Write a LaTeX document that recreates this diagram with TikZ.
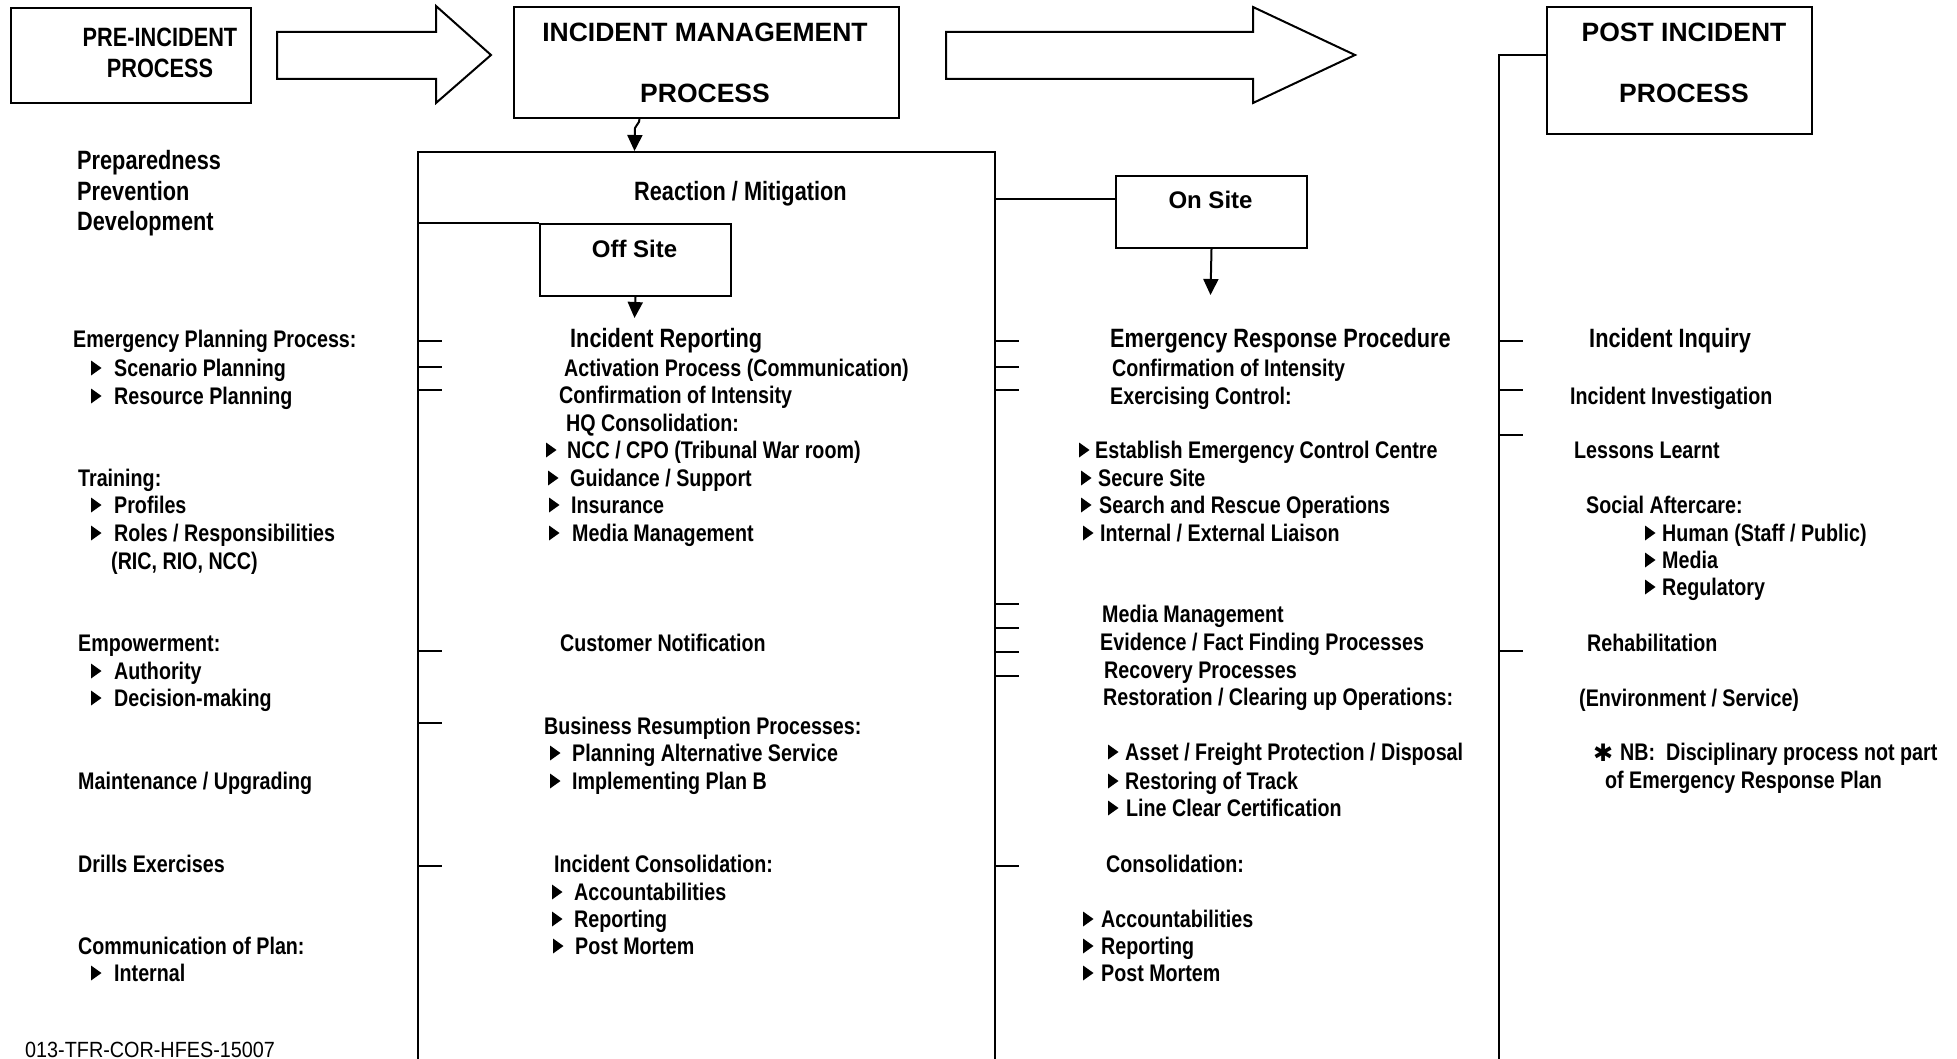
\documentclass[tikz,border=0pt]{standalone}
\usepackage{fontspec}
\setmainfont{Liberation Sans}
\newfontfamily\narrowfam[FakeStretch=0.82]{Liberation Sans}
\newfontfamily\footfam[FakeStretch=0.9]{Liberation Sans}
\newfontfamily\symfam{DejaVu Sans}
\usetikzlibrary{arrows.meta}
\tikzset{
  ln/.style={line width=2pt},
  box/.style={draw, line width=2pt, inner sep=0pt, anchor=north west},
  arr/.style={ln, -{Triangle[width=15pt,length=16pt]}},
  txt/.style={anchor=base west, inner sep=0pt, yshift=-8pt, font=\narrowfam\bfseries\fontsize{24}{28}\selectfont},
  hd/.style={anchor=base west, inner sep=0pt, yshift=-9pt, font=\narrowfam\bfseries\fontsize{26.5}{30}\selectfont},
  ttl/.style={anchor=base, inner sep=0pt, font=\bfseries\fontsize{26.5}{30}\selectfont},
  nttl/.style={anchor=base, inner sep=0pt, font=\narrowfam\bfseries\fontsize{26.5}{30}\selectfont},
  site/.style={anchor=base, inner sep=0pt, font=\bfseries\fontsize{24}{28}\selectfont},
  tick/.style={line width=1.6pt}
}
\newcommand\bul[2]{\fill (#1,#2-7.5) -- (#1+10.5,#2) -- (#1,#2+7.5) -- cycle;}
\begin{document}
\begin{tikzpicture}[x=1pt,y=-1pt]
\useasboundingbox (0,0) rectangle (1957,1059);

% ---- top boxes
\node[box, minimum width=240pt, minimum height=95pt] (pre) at (10,7) {};
\node[nttl] (preA) at (160,47) {PRE-INCIDENT};
\node[nttl] (preB) at (160,78) {PROCESS};

\node[box, minimum width=385pt, minimum height=111pt] (im) at (513,6) {};
\node[ttl] (imA) at (705,42) {INCIDENT MANAGEMENT};
\node[ttl] (imB) at (705,103) {PROCESS};

\node[box, minimum width=265pt, minimum height=127pt] (post) at (1546,6) {};
\node[ttl] (postA) at (1684,42) {POST INCIDENT};
\node[ttl] (postB) at (1684,103) {PROCESS};

% ---- block arrows
\draw[ln] (277,32) -- (436,32) -- (436,6) -- (491,55) -- (436,103) -- (436,79) -- (277,79) -- cycle;
\draw[ln] (946,32) -- (1253,32) -- (1253,7) -- (1355,55) -- (1253,103) -- (1253,79) -- (946,79) -- cycle;

% ---- reaction / mitigation frame
\draw[ln] (418,1059) -- (418,152) -- (995,152) -- (995,1059);
\node[hd] (react) at (634,192) {Reaction / Mitigation};
\coordinate (rtop) at (634.5,151);
\draw[arr] ([xshift=-67pt]im.south) .. controls +(0,5) and +(1,-4) .. (635,128) -- (rtop);

% off site
\node[box, minimum width=191pt, minimum height=72pt] (off) at (539,223) {};
\node[site] (offT) at (634.5,258) {Off Site};
\coordinate (rl) at (418,223);
\draw[ln] (rl) -- (off.north west);
\coordinate (offtip) at (634.5,318);
\draw[arr] (off.south) -- (offtip);

% on site
\node[box, minimum width=191pt, minimum height=72pt] (on) at (1115,175) {};
\node[site] (onT) at (1210.5,209) {On Site};
\coordinate (rr) at (995,199);
\draw[ln] (rr) -- (rr -| on.west);
\coordinate (ontip) at (1210.5,295);
\draw[arr] (on.south) -- (ontip);

% post line
\coordinate (pj) at (1499,55);
\coordinate (pb) at (1499,1059);
\draw[ln] (pj -| post.west) -- (pj) -- (pb);

% ---- ticks
\foreach \y in {341,367,390,651,723,866} \draw[tick] (418,\y) -- ++(24,0);
\foreach \y in {341,367,390,604,628,652,676,866} \draw[tick] (995,\y) -- ++(24,0);
\foreach \y in {341,390,435,651} \draw[tick] (1499,\y) -- ++(24,0);

% ---- left column
\node[hd] (l1) at (77,161) {Preparedness};
\node[hd] (l2) at (77,192) {Prevention};
\node[hd] (l3) at (77,222) {Development};
\node[txt] (l4) at (73,339) {Emergency Planning Process:};
\bul{91}{368} \node[txt] (l5) at (114,368) {Scenario Planning};
\bul{91}{396} \node[txt] (l6) at (114,396) {Resource Planning};
\node[txt] (l7) at (78,478) {Training:};
\bul{91}{505} \node[txt] (l8) at (114,505) {Profiles};
\bul{91}{533} \node[txt] (l9) at (114,533) {Roles / Responsibilities};
\node[txt] (l10) at (111,561) {(RIC, RIO, NCC)};
\node[txt] (l11) at (78,643) {Empowerment:};
\bul{91}{671} \node[txt] (l12) at (114,671) {Authority};
\bul{91}{698} \node[txt] (l13) at (114,698) {Decision-making};
\node[txt] (l14) at (78,781) {Maintenance / Upgrading};
\node[txt] (l15) at (78,864) {Drills Exercises};
\node[txt] (l16) at (78,946) {Communication of Plan:};
\bul{91}{973} \node[txt] (l17) at (114,973) {Internal};
\node[anchor=base west, inner sep=0pt, font=\footfam\fontsize{22}{24}\selectfont] (foot) at (25,1057) {013-TFR-COR-HFES-15007};

% ---- off-site column
\node[hd] (m1) at (570,338) {Incident Reporting};
\node[txt] (m2) at (564,368) {Activation Process (Communication)};
\node[txt] (m3) at (559,395) {Confirmation of Intensity};
\node[txt] (m4) at (566,423) {HQ Consolidation:};
\bul{546}{450} \node[txt] (m5) at (567,450) {NCC / CPO (Tribunal War room)};
\bul{548}{478} \node[txt] (m6) at (570,478) {Guidance / Support};
\bul{549}{505} \node[txt] (m7) at (571,505) {Insurance};
\bul{549}{533} \node[txt] (m8) at (572,533) {Media Management};
\node[txt] (m9) at (560,643) {Customer Notification};
\node[txt] (m10) at (544,726) {Business Resumption Processes:};
\bul{550}{753} \node[txt] (m11) at (572,753) {Planning Alternative Service};
\bul{550}{781} \node[txt] (m12) at (572,781) {Implementing Plan B};
\node[txt] (m13) at (554,864) {Incident Consolidation:};
\bul{552}{892} \node[txt] (m14) at (574,892) {Accountabilities};
\bul{552}{919} \node[txt] (m15) at (574,919) {Reporting};
\bul{553}{946} \node[txt] (m16) at (575,946) {Post Mortem};

% ---- on-site column
\node[hd] (o1) at (1110,339) {Emergency Response Procedure};
\node[txt] (o2) at (1112,368) {Confirmation of Intensity};
\node[txt] (o3) at (1110,396) {Exercising Control:};
\bul{1079}{450} \node[txt] (o4) at (1095,450) {Establish Emergency Control Centre};
\bul{1081}{478} \node[txt] (o5) at (1098,478) {Secure Site};
\bul{1081}{505} \node[txt] (o6) at (1099,505) {Search and Rescue Operations};
\bul{1083}{533} \node[txt] (o7) at (1100,533) {Internal / External Liaison};
\node[txt] (o8) at (1102,614) {Media Management};
\node[txt] (o9) at (1100,642) {Evidence / Fact Finding Processes};
\node[txt] (o10) at (1104,670) {Recovery Processes};
\node[txt] (o11) at (1103,697) {Restoration / Clearing up Operations:};
\bul{1108}{752} \node[txt] (o12) at (1125,752) {Asset / Freight Protection / Disposal};
\bul{1108}{781} \node[txt] (o13) at (1125,781) {Restoring of Track};
\bul{1108}{808} \node[txt] (o14) at (1126,808) {Line Clear Certification};
\node[txt] (o15) at (1106,864) {Consolidation:};
\bul{1083}{919} \node[txt] (o16) at (1101,919) {Accountabilities};
\bul{1083}{946} \node[txt] (o17) at (1101,946) {Reporting};
\bul{1083}{973} \node[txt] (o18) at (1101,973) {Post Mortem};

% ---- post column
\node[hd] (p1) at (1589,339) {Incident Inquiry};
\node[txt] (p2) at (1570,396) {Incident Investigation};
\node[txt] (p3) at (1574,450) {Lessons Learnt};
\node[txt] (p4) at (1586,505) {Social Aftercare:};
\bul{1645}{533} \node[txt] (p5) at (1662,533) {Human (Staff / Public)};
\bul{1645}{560} \node[txt] (p6) at (1662,560) {Media};
\bul{1645}{587} \node[txt] (p7) at (1662,587) {Regulatory};
\node[txt] (p8) at (1587,643) {Rehabilitation};
\node[txt] (p9) at (1579,698) {(Environment / Service)};
\node[anchor=base west, inner sep=0pt, font=\symfam\bfseries\fontsize{24}{26}\selectfont] (star) at (1593,761) {✱};
\node[txt] (p10) at (1620,752) {NB:\ \ Disciplinary process not part};
\node[txt] (p11) at (1605,780) {of Emergency Response Plan};
\end{tikzpicture}
\end{document}
